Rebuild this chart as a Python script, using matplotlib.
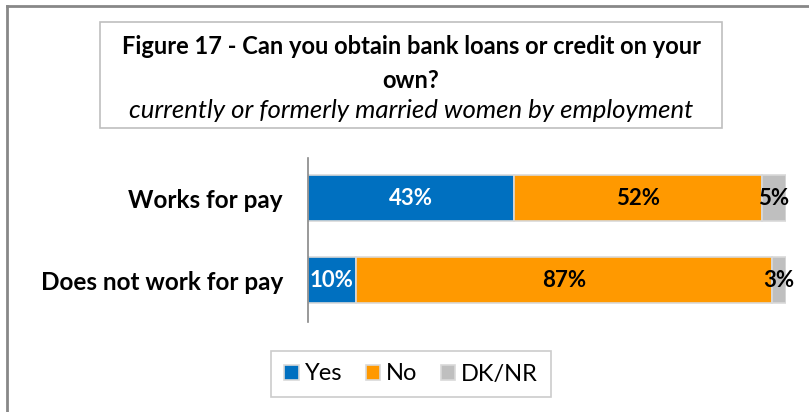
import matplotlib.pyplot as plt
from matplotlib.patches import Rectangle

categories = ["Works for pay", "Does not work for pay"]
series = ["Yes", "No", "DK/NR"]
yes = [43, 10]
no = [52, 87]
dknr = [5, 3]

colors = ["#0070C0", "#FF9900", "#BFBFBF"]
label_colors = ["white", "black", "black"]

plt.rcParams["font.family"] = ["Lato", "DejaVu Sans"]

fig = plt.figure(figsize=(8.09, 4.12), dpi=100)
W, H = 809, 412

# outer chart frame (only top and left edges fall inside the image)
fig.add_artist(plt.Line2D([7 / W, 7 / W], [0, 1 - 6 / H], color="#888888", lw=2))
fig.add_artist(plt.Line2D([7 / W, 1], [1 - 6 / H, 1 - 6 / H], color="#888888", lw=2))

# title box
fig.add_artist(Rectangle((100 / W, 1 - 128 / H), 622 / W, 106 / H, fill=False,
                         edgecolor="#BFBFBF", lw=1.2, transform=fig.transFigure))
fig.text(411 / W, 1 - 47 / H, "Figure 17 - Can you obtain bank loans or credit on your",
         ha="center", va="center", fontsize=17, fontweight="bold")
fig.text(411 / W, 1 - 80 / H, "own?", ha="center", va="center", fontsize=17, fontweight="bold")
fig.text(411 / W, 1 - 110 / H, "currently or formerly married women by employment",
         ha="center", va="center", fontsize=18.5, fontstyle="italic")

ax = fig.add_axes([308 / W, 1 - 322 / H, 478 / W, 164 / H])
ys = range(len(categories))
left = [0] * len(categories)
for name, vals, c, lc in zip(series, [yes, no, dknr], colors, label_colors):
    bars = ax.barh(ys, vals, left=left, height=0.56, color=c, edgecolor="#D9D9D9",
                   linewidth=1.2, label=name)
    ax.bar_label(bars, labels=[f"{v}%" for v in vals], label_type="center",
                 color=lc, fontsize=16, fontweight="bold")
    left = [l + v for l, v in zip(left, vals)]

ax.set_xlim(0, 100)
ax.set_ylim(1.512, -0.488)
ax.set_yticks(list(ys))
ax.set_yticklabels(categories, fontsize=17.5, fontweight="bold")
ax.tick_params(axis="y", length=0, pad=18)
ax.set_xticks([])
for s in ["top", "right", "bottom"]:
    ax.spines[s].set_visible(False)
ax.spines["left"].set_color("#888888")
ax.spines["left"].set_linewidth(1.2)

leg = fig.legend(loc="center", bbox_to_anchor=(411 / W, 1 - 374 / H), ncol=3,
                 prop={"size": 17}, frameon=True, fancybox=False, edgecolor="#BFBFBF",
                 handlelength=0.6, handleheight=0.6, handletextpad=0.25,
                 columnspacing=1.0, borderpad=0.55)
leg.get_frame().set_linewidth(1.2)

fig.savefig("out.png", dpi=100)
